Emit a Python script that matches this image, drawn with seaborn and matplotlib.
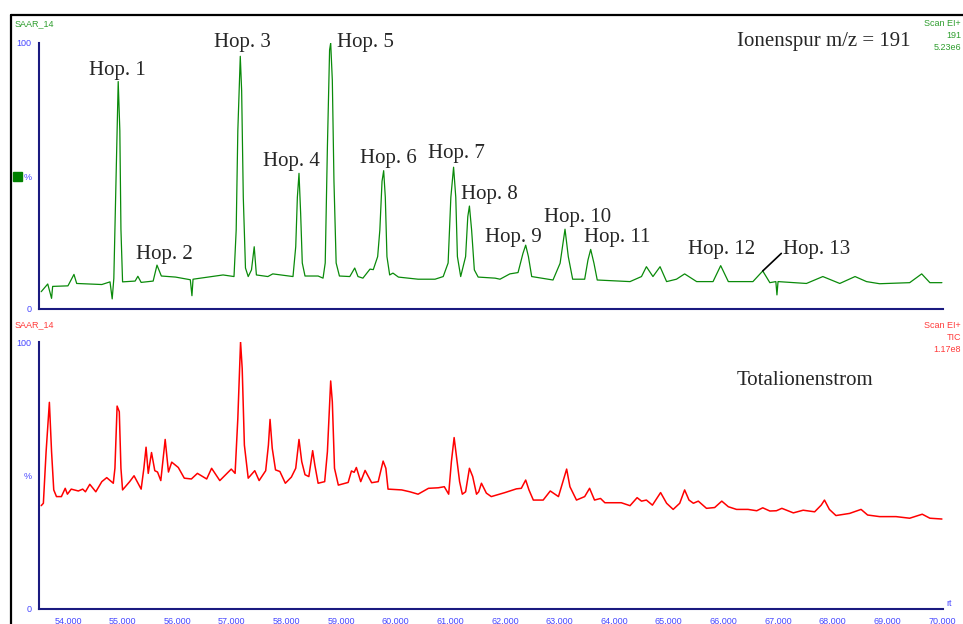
import matplotlib
matplotlib.use("Agg")
import matplotlib.pyplot as plt
import seaborn as sns
from matplotlib.lines import Line2D
from matplotlib.patches import Rectangle
from matplotlib.ticker import MultipleLocator, FuncFormatter

# ion trace m/z 191 (retention time in min, relative intensity in %)
ion_rt = [53.51, 53.63, 53.70, 53.72, 54.00, 54.11, 54.16, 54.62, 54.77, 54.81,
          54.84, 54.88, 54.92, 54.95, 54.97, 55.00, 55.23, 55.28, 55.34, 55.56,
          55.63, 55.71, 55.97, 56.24, 56.27, 56.29, 56.57, 56.84, 57.04, 57.08,
          57.11, 57.155, 57.18, 57.21, 57.25, 57.30, 57.36, 57.41, 57.45, 57.66,
          57.75, 58.12, 58.17, 58.20, 58.23, 58.26, 58.29, 58.34, 58.58, 58.67,
          58.71, 58.75, 58.79, 58.81, 58.84, 58.87, 58.91, 58.97, 59.16, 59.25,
          59.31, 59.40, 59.53, 59.59, 59.67, 59.71, 59.75, 59.78, 59.81, 59.84,
          59.89, 59.95, 60.05, 60.41, 60.72, 60.87, 60.96, 61.01, 61.06, 61.10,
          61.13, 61.19, 61.28, 61.32, 61.35, 61.39, 61.44, 61.51, 61.82, 61.91,
          62.09, 62.24, 62.33, 62.38, 62.43, 62.49, 62.88, 63.01, 63.10, 63.16,
          63.24, 63.46, 63.52, 63.57, 63.63, 63.69, 64.29, 64.50, 64.59, 64.71,
          64.84, 64.96, 65.14, 65.29, 65.51, 65.81, 65.95, 66.09, 66.54, 66.72,
          66.85, 66.96, 66.98, 67.00, 67.52, 67.82, 68.13, 68.41, 68.62, 68.86,
          69.41, 69.63, 69.78, 70.00]
ion_pct = [6.5, 9.4, 4.0, 8.5, 8.7, 13.0, 9.6, 9.2, 10.2, 3.8,
           11.5, 48.0, 85.5, 67.0, 30.0, 10.2, 10.5, 12.3, 10.0, 10.5,
           16.5, 12.4, 12.0, 11.0, 5.0, 11.2, 12.0, 12.8, 12.2, 29.7,
           67.0, 95.0, 82.0, 42.0, 15.4, 12.2, 14.7, 23.4, 12.8, 12.2,
           13.2, 12.2, 23.4, 42.0, 51.0, 36.0, 17.3, 12.4, 12.4, 11.6,
           17.3, 61.0, 97.4, 100.0, 86.0, 48.0, 17.3, 12.4, 12.2, 15.4,
           12.2, 11.6, 15.0, 14.8, 19.7, 29.7, 48.0, 52.0, 42.0, 19.7,
           12.8, 13.5, 12.0, 11.2, 11.2, 12.2, 17.3, 42.0, 53.3, 42.0,
           19.7, 12.2, 19.7, 34.7, 38.7, 29.7, 14.7, 12.0, 11.6, 11.2,
           13.2, 13.7, 20.9, 24.0, 19.7, 12.2, 10.9, 17.2, 30.0, 19.7,
           11.2, 11.2, 18.4, 22.4, 17.2, 10.9, 10.3, 12.2, 15.9, 12.2,
           15.9, 10.3, 11.2, 13.2, 10.3, 10.3, 16.3, 10.3, 10.3, 14.3,
           9.9, 10.3, 5.3, 10.3, 9.6, 12.2, 9.6, 12.2, 10.3, 9.5,
           9.9, 13.2, 9.9, 9.9]

# total ion current
tic_rt = [53.51, 53.55, 53.60, 53.66, 53.70, 53.74, 53.79, 53.88, 53.95, 53.99,
          54.06, 54.19, 54.27, 54.32, 54.40, 54.51, 54.62, 54.71, 54.83, 54.86,
          54.90, 54.94, 54.97, 55.00, 55.13, 55.21, 55.34, 55.39, 55.43, 55.47,
          55.53, 55.59, 55.64, 55.70, 55.78, 55.84, 55.90, 56.02, 56.13, 56.26,
          56.37, 56.54, 56.63, 56.78, 56.99, 57.06, 57.11, 57.16, 57.19, 57.23,
          57.30, 57.42, 57.50, 57.62, 57.67, 57.70, 57.74, 57.80, 57.88, 57.98,
          58.09, 58.17, 58.23, 58.28, 58.34, 58.41, 58.48, 58.52, 58.58, 58.70,
          58.75, 58.81, 58.84, 58.88, 58.95, 59.13, 59.19, 59.24, 59.28, 59.36,
          59.44, 59.56, 59.68, 59.77, 59.82, 59.86, 60.11, 60.26, 60.41, 60.60,
          60.78, 60.89, 60.97, 61.02, 61.07, 61.11, 61.17, 61.22, 61.28, 61.35,
          61.41, 61.48, 61.52, 61.57, 61.66, 61.75, 62.00, 62.21, 62.30, 62.38,
          62.44, 62.52, 62.70, 62.83, 62.98, 63.07, 63.13, 63.19, 63.31, 63.46,
          63.55, 63.64, 63.75, 63.83, 64.13, 64.29, 64.42, 64.50, 64.59, 64.70,
          64.85, 64.96, 65.08, 65.20, 65.29, 65.37, 65.45, 65.54, 65.69, 65.84,
          65.97, 66.09, 66.24, 66.45, 66.61, 66.72, 66.85, 66.97, 67.07, 67.28,
          67.46, 67.67, 67.79, 67.85, 67.94, 68.06, 68.31, 68.52, 68.64, 68.86,
          69.16, 69.41, 69.64, 69.78, 70.00]
tic_pct = [38.7, 39.6, 58.9, 77.4, 58.9, 44.6, 42.1, 42.1, 45.2, 43.0,
           44.9, 44.2, 44.9, 43.9, 46.7, 43.9, 47.7, 49.2, 47.1, 52.7,
           76.0, 73.9, 52.7, 44.6, 47.7, 49.9, 44.9, 52.7, 60.6, 50.8,
           58.6, 51.8, 51.3, 48.1, 63.5, 51.3, 55.0, 53.0, 49.0, 48.7,
           50.8, 48.7, 52.7, 48.1, 52.4, 50.8, 71.4, 100.0, 90.1, 61.4,
           49.0, 51.8, 48.1, 51.8, 61.4, 71.0, 60.2, 52.1, 51.5, 47.1,
           49.4, 52.7, 63.5, 55.2, 50.3, 49.6, 59.3, 53.9, 47.1, 47.7,
           58.9, 85.4, 77.6, 52.7, 46.4, 47.4, 51.7, 51.2, 53.0, 47.7,
           51.9, 47.3, 47.7, 55.4, 52.7, 44.9, 44.6, 43.9, 43.0, 45.2,
           45.4, 45.8, 43.0, 55.2, 64.2, 57.7, 47.7, 43.0, 43.9, 52.7,
           49.6, 43.0, 43.9, 47.1, 43.4, 42.1, 43.6, 45.0, 45.2, 48.3,
           44.6, 40.8, 40.8, 44.2, 42.1, 48.3, 52.4, 45.8, 40.8, 42.1,
           45.2, 40.8, 41.4, 39.8, 39.8, 38.7, 41.7, 40.4, 40.8, 38.9,
           43.6, 39.6, 37.3, 39.6, 44.6, 40.8, 39.6, 40.4, 37.7, 38.0,
           40.4, 38.3, 37.3, 37.3, 36.8, 37.9, 36.7, 36.8, 37.7, 36.0,
           37.0, 36.4, 38.9, 40.8, 37.3, 35.0, 35.8, 37.3, 35.2, 34.6,
           34.6, 34.0, 35.5, 34.0, 33.7]

hop_labels = ["Hop. 1", "Hop. 2", "Hop. 3", "Hop. 4", "Hop. 5", "Hop. 6", "Hop. 7",
              "Hop. 8", "Hop. 9", "Hop. 10", "Hop. 11", "Hop. 12", "Hop. 13"]
hop_x = [54.90, 55.76, 57.20, 58.10, 59.45, 59.86, 61.11,
         61.71, 62.15, 63.33, 64.06, 65.97, 67.71]
hop_y = [89.5, 20.5, 100.2, 55.6, 100.2, 56.4, 58.6,
         43.2, 26.7, 34.4, 26.7, 22.2, 22.2]

ion_info = ["Scan EI+", "191", "5.23e6"]
tic_info = ["Scan EI+", "TIC", "1.17e8"]

sns.set_style("white")
plt.rcParams["font.family"] = ["Liberation Sans", "DejaVu Sans"]

axis_col = "#1a1a80"
tick_col = "#4646ff"
green = "#0a8a0a"
red = "#ff0000"

fig = plt.figure(figsize=(9.63, 6.24), dpi=100)
ax1 = fig.add_axes([39 / 963, 1 - 309 / 624, 904 / 963, 266 / 624])
ax2 = fig.add_axes([39 / 963, 1 - 609 / 624, 904 / 963, 267 / 624])

sns.lineplot(x=ion_rt, y=ion_pct, ax=ax1, color=green, lw=0.9, estimator=None)
sns.lineplot(x=tic_rt, y=tic_pct, ax=ax2, color=red, lw=1.1, estimator=None)

for ax in (ax1, ax2):
    ax.set_xlim(53.47, 70.02)
    ax.set_ylim(0, 100)
    ax.set_facecolor("none")
    for s in ("top", "right"):
        ax.spines[s].set_visible(False)
    for s in ("left", "bottom"):
        ax.spines[s].set_color(axis_col)
        ax.spines[s].set_linewidth(1.5)
    ax.yaxis.set_major_locator(MultipleLocator(10))
    ax.yaxis.set_major_formatter(FuncFormatter(
        lambda v, p: {0: "0", 50: "%", 100: "100"}.get(int(round(v)), "")))
    ax.xaxis.set_major_locator(MultipleLocator(1))
    ax.xaxis.set_minor_locator(MultipleLocator(0.1))
    ax.tick_params(axis="both", which="major", direction="out", length=4.5, width=1.2,
                   color=axis_col, labelcolor=tick_col, labelsize=6.5, pad=1)
    ax.tick_params(axis="x", which="minor", direction="out", length=2.2, width=0.9,
                   color=axis_col)
    ax.set_xlabel("")
    ax.set_ylabel("")

ax1.tick_params(axis="x", labelbottom=False)
ax2.xaxis.set_major_formatter(FuncFormatter(lambda v, p: f"{v:.3f}"))
ax2.text(1.004, 0.005, "rt", transform=ax2.transAxes, fontsize=6.5,
         color=tick_col, va="bottom", ha="left")

# peak labels
for lab, x, y in zip(hop_labels, hop_x, hop_y):
    ax1.text(x, y, lab, family=["Liberation Serif"], fontsize=15,
             ha="center", va="center", clip_on=False)
ax1.plot([66.72, 67.06], [14.3, 20.9], color="black", lw=1.2)
ax1.text(66.25, 100.4, "Ionenspur m/z = 191", family=["Liberation Serif"],
         fontsize=15, ha="left", va="center", clip_on=False)
ax2.text(66.25, 85.4, "Totalionenstrom", family=["Liberation Serif"],
         fontsize=15, ha="left", va="center")

# header texts
fig.text(15 / 963, 1 - 24 / 624, "SAAR_14", color="#2e9e2e", fontsize=6.5, va="center")
fig.text(15 / 963, 1 - 325 / 624, "SAAR_14", color="#ff3b3b", fontsize=6.5, va="center")
for i, t in enumerate(ion_info):
    fig.text(961 / 963, 1 - (24 + 12 * i) / 624, t,
             color="#2e9e2e", fontsize=6.5, ha="right", va="center")
for i, t in enumerate(tic_info):
    fig.text(961 / 963, 1 - (325 + 12 * i) / 624, t,
             color="#ff3b3b", fontsize=6.5, ha="right", va="center")

# green marker next to %
fig.add_artist(Rectangle((13 / 963, 1 - 181 / 624), 9 / 963, 9 / 624,
                         transform=fig.transFigure, color="#008000"))

# black frame
fig.add_artist(Line2D([11 / 963, 11 / 963], [0, 1 - 15 / 624], transform=fig.transFigure,
                      color="black", lw=1.6))
fig.add_artist(Line2D([11 / 963, 1], [1 - 15 / 624, 1 - 15 / 624], transform=fig.transFigure,
                      color="black", lw=1.6))

fig.savefig("out.png", dpi=100)
